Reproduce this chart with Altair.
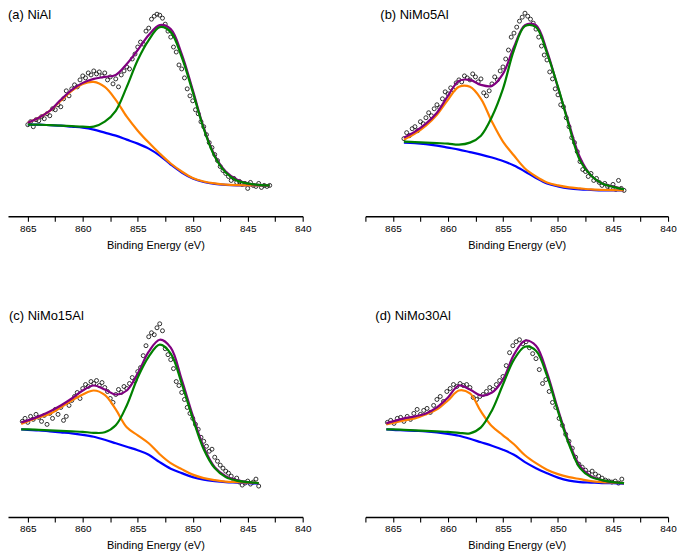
import altair as alt
import pandas as pd

# ---------------- data ----------------
# (a) NiAl
E_A = [865, 864, 863, 862, 861, 860, 859, 858, 857, 856, 855, 854, 853, 852, 851, 850, 849, 848, 847, 846, 845, 844, 843]
BG_A = [92, 92, 91.5, 91, 90, 89, 87, 84, 81, 77, 73, 68, 61, 52, 44, 38, 34.5, 32.5, 31.5, 31, 31, 31, 31]
SAT_A = [94, 99, 106, 116, 126, 133, 135, 130, 117, 100, 86, 74, 63, 53, 45, 38.5, 35, 33, 31.8, 31.3, 31.1, 31, 31]
MAIN_A = [92, 92, 91.5, 91, 90.5, 90, 90, 95, 106, 130, 157, 177, 190, 185, 160, 125, 88, 60, 44, 36, 33, 31.5, 31]
ENV_A = [94, 99, 106, 117, 127, 134, 138, 140, 142, 153, 167, 182, 192, 188, 163, 127, 89, 61, 45, 37, 33, 31.5, 31]
PTS_A_START, PTS_A_STEP = 865.0, 0.25
PTS_A = [92,
         95, 90, 97, 96, 100, 98, 103, 101, 108, 107, 112, 110, 118, 126, 121, 128,
         132, 130, 137, 141, 139, 144, 142, 146, 143, 145, 141, 144, 137, 140, 133, 138,
         130, 142, 146, 150, 148, 158, 163, 170, 175, 173, 186, 189, 198, 201, 203, 202,
         199, 193, 186, 180, 170, 165, 152, 148, 139, 128, 121, 116, 107, 103, 95, 90,
         82, 74, 69, 62, 56, 50, 46, 43, 40, 36, 38, 34, 35, 32, 33, 28,
         34, 31, 30, 33, 29, 31, 30, 31]

# (b) NiMo5Al
E_B = [864, 863, 862, 861, 860, 859, 858, 857, 856, 855, 854, 853, 852, 851, 850, 849, 848, 847, 846, 845, 844]
BG_B = [74, 73.5, 72.5, 71, 69, 67, 64.5, 62, 59, 55.5, 51, 45, 38.5, 33, 30, 28, 27, 26.5, 26, 26, 26]
SAT_B = [77, 83, 91, 102, 117, 130, 130, 118, 95, 75, 61, 48, 40, 34, 31, 29, 28, 27, 26.5, 26.2, 26.1]
MAIN_B = [75, 74.5, 74, 73.5, 73, 72, 74, 81, 100, 128, 167, 191, 190, 164, 130, 91, 56, 41, 33, 29.5, 27]
ENV_B = [79, 85, 93, 104, 121, 136, 137, 132, 131, 143, 170, 192, 192, 166, 129, 93, 59, 41, 33, 30, 27]
PTS_B_START, PTS_B_STEP = 864.0, 0.25
PTS_B = [78,
         84, 81, 88, 90, 86, 95, 93, 99, 104, 101, 108, 112, 109, 118, 125, 123,
         129, 127, 134, 137, 135, 141, 139, 137, 143, 140, 135, 138, 124, 121, 126, 133,
         140, 137, 146, 150, 158, 167, 180, 184, 190, 196, 200, 204, 201, 198, 194, 188,
         180, 171, 162, 157, 145, 138, 128, 122, 112, 110, 99, 90, 79, 74, 65, 55,
         47, 45, 40, 43, 36, 38, 34, 31, 33, 30, 29, 32, 27, 36, 28, 26]

# (c) NiMo15Al
E_C = [865.6, 865, 864, 863, 862, 861, 860, 859, 858, 857, 856, 855, 854, 853, 852, 851, 850, 849, 848, 847, 846, 845, 844]
BG_C = [88, 87.5, 87, 86, 85, 84, 82.5, 80.5, 77.5, 74, 70.5, 67, 62.5, 55, 48.5, 44, 40, 37.5, 36, 35, 34.5, 34, 33.5]
SAT_C = [93.5, 96, 100, 103.5, 110, 117, 123, 127, 122.5, 108, 90, 82, 74, 63, 54, 48, 42.5, 39, 37, 35.5, 35, 34.5, 34]
MAIN_C = [88, 88, 87.5, 87, 86.5, 86, 85.5, 84.5, 85, 92, 112, 140, 161, 173, 164, 134, 99, 68, 49, 40, 36.5, 35, 34]
ENV_C = [95, 97, 101, 106, 112, 119, 127, 132, 128, 123, 127, 144, 166, 178, 170, 138, 102, 70, 50, 41, 37, 35, 34]
PTS_C_START, PTS_C_STEP = 865.5, 0.25
PTS_C = [96, 99,
         95, 101, 98, 103, 100, 96, 102, 93, 104, 99, 108, 103, 110, 97, 101, 112,
         117, 121, 125, 119, 129, 133, 131, 136, 134, 137, 132, 135, 130, 126, 119, 115,
         123, 128, 125, 131, 129, 134, 140, 137, 146, 150, 162, 172, 181, 185, 183, 190,
         194, 187, 169, 163, 158, 149, 136, 132, 125, 118, 110, 104, 99, 93, 88, 80,
         76, 71, 66, 68, 60, 56, 52, 49, 46, 44, 41, 37, 39, 35, 32, 34,
         36, 33, 35, 38, 31]

# (d) NiMo30Al
E_D = [865.6, 865, 864, 863, 862, 861, 860, 859, 858, 857, 856, 855, 854, 853, 852, 851, 850, 849, 848, 847, 846, 845, 844]
BG_D = [88, 87.5, 87, 86.5, 86, 85, 83.5, 81.5, 78.5, 75, 71.5, 67.5, 62.5, 55, 49, 44, 39.5, 36.5, 35, 34.5, 34, 34, 33.5]
SAT_D = [93, 94.5, 97, 99, 103, 108, 117, 127, 124, 106, 91, 82, 73, 62, 54, 47.5, 43, 40, 38, 36, 35, 34.5, 34]
MAIN_D = [88, 88, 87.5, 87, 86.5, 86, 85.5, 84.5, 84, 90, 107, 133, 158, 171, 167, 142, 106, 73, 49, 40, 37, 35, 34]
ENV_D = [94, 96, 99, 101, 104, 110, 120, 132, 128, 122, 125, 138, 163, 177, 172, 145, 108, 75, 51, 41, 37, 35, 34]
PTS_D_START, PTS_D_STEP = 865.5, 0.3
PTS_D = [95, 97, 94, 99, 100, 96, 101, 98, 104, 108, 103, 107,
         109, 105, 112, 118, 121, 116, 126, 129, 133, 131, 134, 132,
         133, 130, 120, 118, 121, 123, 126, 130, 128, 133, 137, 141,
         152, 165, 172, 176, 178, 174, 176, 170, 164, 159, 148, 134,
         138, 126, 115, 110, 99, 92, 83, 76, 69, 60, 53, 50,
         47, 44, 46, 43, 41, 39, 37, 36, 35, 36, 34, 38]

LABELS = ["(a) NiAl", "(b) NiMo5Al", "(c) NiMo15Al", "(d) NiMo30Al"]
TICKS_LEFT = [865, 862.5, 860, 857.5, 855, 852.5, 850, 847.5, 845, 842.5, 840]
TICKS_RIGHT = [867.5] + TICKS_LEFT

COLORS = {"bg": "#0000FF", "sat": "#FF8000", "env": "#800080", "main": "#008000"}
FONT = "Liberation Sans"
PANEL_H = 208


def panel(label, E, bg, sat, main, env, p_start, p_step, pts, emax, width, ticks, tx):
    xs = alt.Scale(domain=[840, emax], reverse=True, nice=False, zero=False)
    ys = alt.Scale(domain=[0, PANEL_H], nice=False, zero=False)
    axis = alt.Axis(
        values=ticks,
        labelExpr="datum.value % 5 == 0 ? format(datum.value, 'd') : ''",
        title="Binding Energy (eV)",
        grid=False,
        labelFlush=False,
    )
    line_df = pd.DataFrame({"E": E, "bg": bg, "sat": sat, "main": main, "env": env})
    pe = [round(p_start - i * p_step, 2) for i in range(len(pts))]
    pt_df = pd.DataFrame({"E": pe, "I": pts})

    layers = [
        alt.Chart(pt_df)
        .mark_point(shape="circle", filled=False, size=16, strokeWidth=0.85, color="#111111", opacity=1)
        .encode(x=alt.X("E:Q", scale=xs, axis=axis), y=alt.Y("I:Q", scale=ys, axis=None))
    ]
    for key in ["bg", "sat", "env", "main"]:
        layers.append(
            alt.Chart(line_df)
            .mark_line(color=COLORS[key], strokeWidth=2.2, interpolate="catmull-rom")
            .encode(x=alt.X("E:Q", scale=xs, axis=axis), y=alt.Y(f"{key}:Q", scale=ys, axis=None))
        )
    layers.append(
        alt.Chart(pd.DataFrame({"t": [label]}))
        .mark_text(align="left", baseline="top", fontSize=13, font=FONT, color="black")
        .encode(x=alt.value(tx), y=alt.value(0), text="t:N")
    )
    return alt.layer(*layers).properties(width=width, height=PANEL_H)


pa = panel(LABELS[0], E_A, BG_A, SAT_A, MAIN_A, ENV_A, PTS_A_START, PTS_A_STEP, PTS_A, 866.8, 296, TICKS_LEFT, 0)
pb = panel(LABELS[1], E_B, BG_B, SAT_B, MAIN_B, ENV_B, PTS_B_START, PTS_B_STEP, PTS_B, 867.5, 304, TICKS_RIGHT, 15)
pc = panel(LABELS[2], E_C, BG_C, SAT_C, MAIN_C, ENV_C, PTS_C_START, PTS_C_STEP, PTS_C, 866.8, 296, TICKS_LEFT, 1)
pd_ = panel(LABELS[3], E_D, BG_D, SAT_D, MAIN_D, ENV_D, PTS_D_START, PTS_D_STEP, PTS_D, 867.5, 304, TICKS_RIGHT, 10)

chart = (
    alt.vconcat(
        alt.hconcat(pa, pb, spacing=53),
        alt.hconcat(pc, pd_, spacing=53),
        spacing=60,
    )
    .properties(padding=0)
    .configure_view(stroke=None)
    .configure_axis(
        domainColor="black",
        domainWidth=1.4,
        tickColor="black",
        tickWidth=1.1,
        tickSize=5,
        labelFont=FONT,
        labelFontSize=10,
        labelColor="black",
        labelPadding=2,
        titleFont=FONT,
        titleFontSize=11,
        titleFontWeight="normal",
        titleColor="black",
        titlePadding=6,
    )
)

chart.save("out.html", embed_options={"renderer": "svg", "actions": False})
